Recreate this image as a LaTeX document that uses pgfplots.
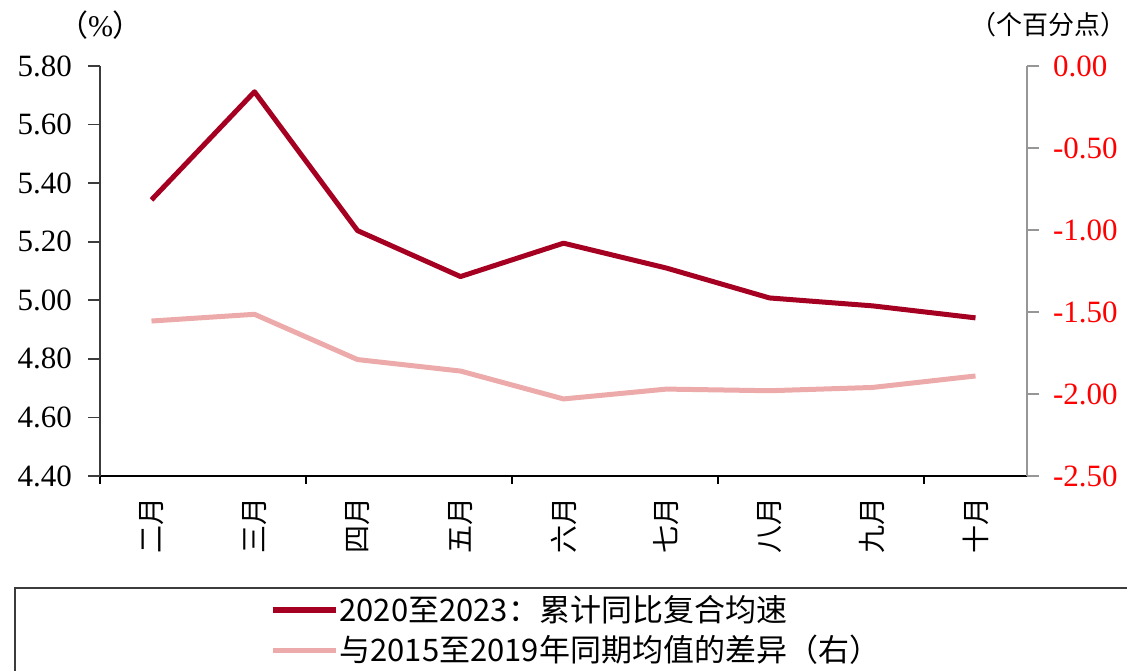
\documentclass[border=0pt]{standalone}
\usepackage{fontspec}
\setmainfont{Liberation Serif}
\newfontfamily\cjk{Noto Sans CJK SC}
\usepackage{pgfplots}
\pgfplotsset{compat=1.18}
\definecolor{darkred}{RGB}{165,0,33}
\definecolor{pinkline}{RGB}{236,170,170}
\definecolor{rightaxis}{RGB}{150,150,150}
\definecolor{leftaxis}{RGB}{60,60,60}
\begin{document}
\begin{tikzpicture}
\path[use as bounding box] (-50pt,-97pt) rectangle (513.5pt,238pt);
\begin{axis}[
  at={(0pt,0pt)}, anchor=south west,
  scale only axis, width=463.5pt, height=205pt,
  xmin=-0.5, xmax=8.5, ymin=4.4, ymax=5.8,
  axis x line*=bottom, axis y line*=left,
  x axis line style={black, line width=0.8pt},
  y axis line style={leftaxis, line width=0.8pt},
  tick align=outside,
  major tick length=6pt,
  minor tick length=4pt,
  xtick={0,1,2,3,4,5,6,7,8},
  xticklabels={二月,三月,四月,五月,六月,七月,八月,九月,十月},
  xticklabel style={font=\cjk\fontsize{14}{14}\selectfont, yshift=-4.5pt, rotate=90, anchor=east, inner sep=0pt},
  major x tick style={draw=none},
  minor xtick={-0.5,1.5,3.5,5.5,7.5},
  minor x tick style={black, line width=0.8pt},
  ytick={4.4,4.6,4.8,5.0,5.2,5.4,5.6,5.8},
  yticklabels={4.40,4.60,4.80,5.00,5.20,5.40,5.60,5.80},
  yticklabel style={font=\fontsize{15.5}{15.5}\selectfont, xshift=-4.5pt},
  y tick style={leftaxis, line width=0.8pt},
]
\addplot[darkred, line width=2.5pt, line join=round] coordinates {
(0,5.343) (1,5.712) (2,5.238) (3,5.081) (4,5.195) (5,5.11) (6,5.008) (7,4.981) (8,4.94)
};
\end{axis}
\begin{axis}[
  at={(0pt,0pt)}, anchor=south west,
  scale only axis, width=463.5pt, height=205pt,
  xmin=-0.5, xmax=8.5, ymin=-2.5, ymax=0,
  axis x line=none, axis y line*=right,
  y axis line style={rightaxis, line width=0.8pt},
  tick align=outside,
  major tick length=6pt,
  ytick={-2.5,-2,-1.5,-1,-0.5,0},
  yticklabels={-2.50,-2.00,-1.50,-1.00,-0.50,0.00},
  yticklabel style={red, font=\fontsize{15.5}{15.5}\selectfont, xshift=3.5pt},
  y tick style={rightaxis, line width=0.8pt},
  legend style={at={(0.1834,-0.3756)}, anchor=west, draw=none, fill=none, inner sep=0pt,
    nodes={inner sep=0pt, font=\cjk\fontsize{15.5}{15.5}\selectfont}, row sep=5.5pt},
  legend cell align=left,
  legend image code/.code={\draw[#1] (0pt,0pt) -- (31.5pt,0pt);},
]
\addlegendimage{darkred, line width=3pt}
\addlegendentry{2020至2023：累计同比复合均速}
\addplot[pinkline, line width=2.5pt, line join=round] coordinates {
(0,-1.555) (1,-1.514) (2,-1.79) (3,-1.86) (4,-2.03) (5,-1.97) (6,-1.98) (7,-1.96) (8,-1.89)
};
\addlegendentry{与2015至2019年同期均值的差异（右）}
\end{axis}
\draw[leftaxis, line width=0.8pt] (-42.5pt,-56pt) rectangle (540pt,-120pt);
\node[font=\fontsize{15}{15}\selectfont] at (0.25pt,225.5pt) {{\cjk （}\%{\cjk ）}};
\node[font=\cjk\fontsize{13}{13}\selectfont, inner sep=0pt] at (474pt,225.5pt) {（个百分点）};
\end{tikzpicture}
\end{document}
